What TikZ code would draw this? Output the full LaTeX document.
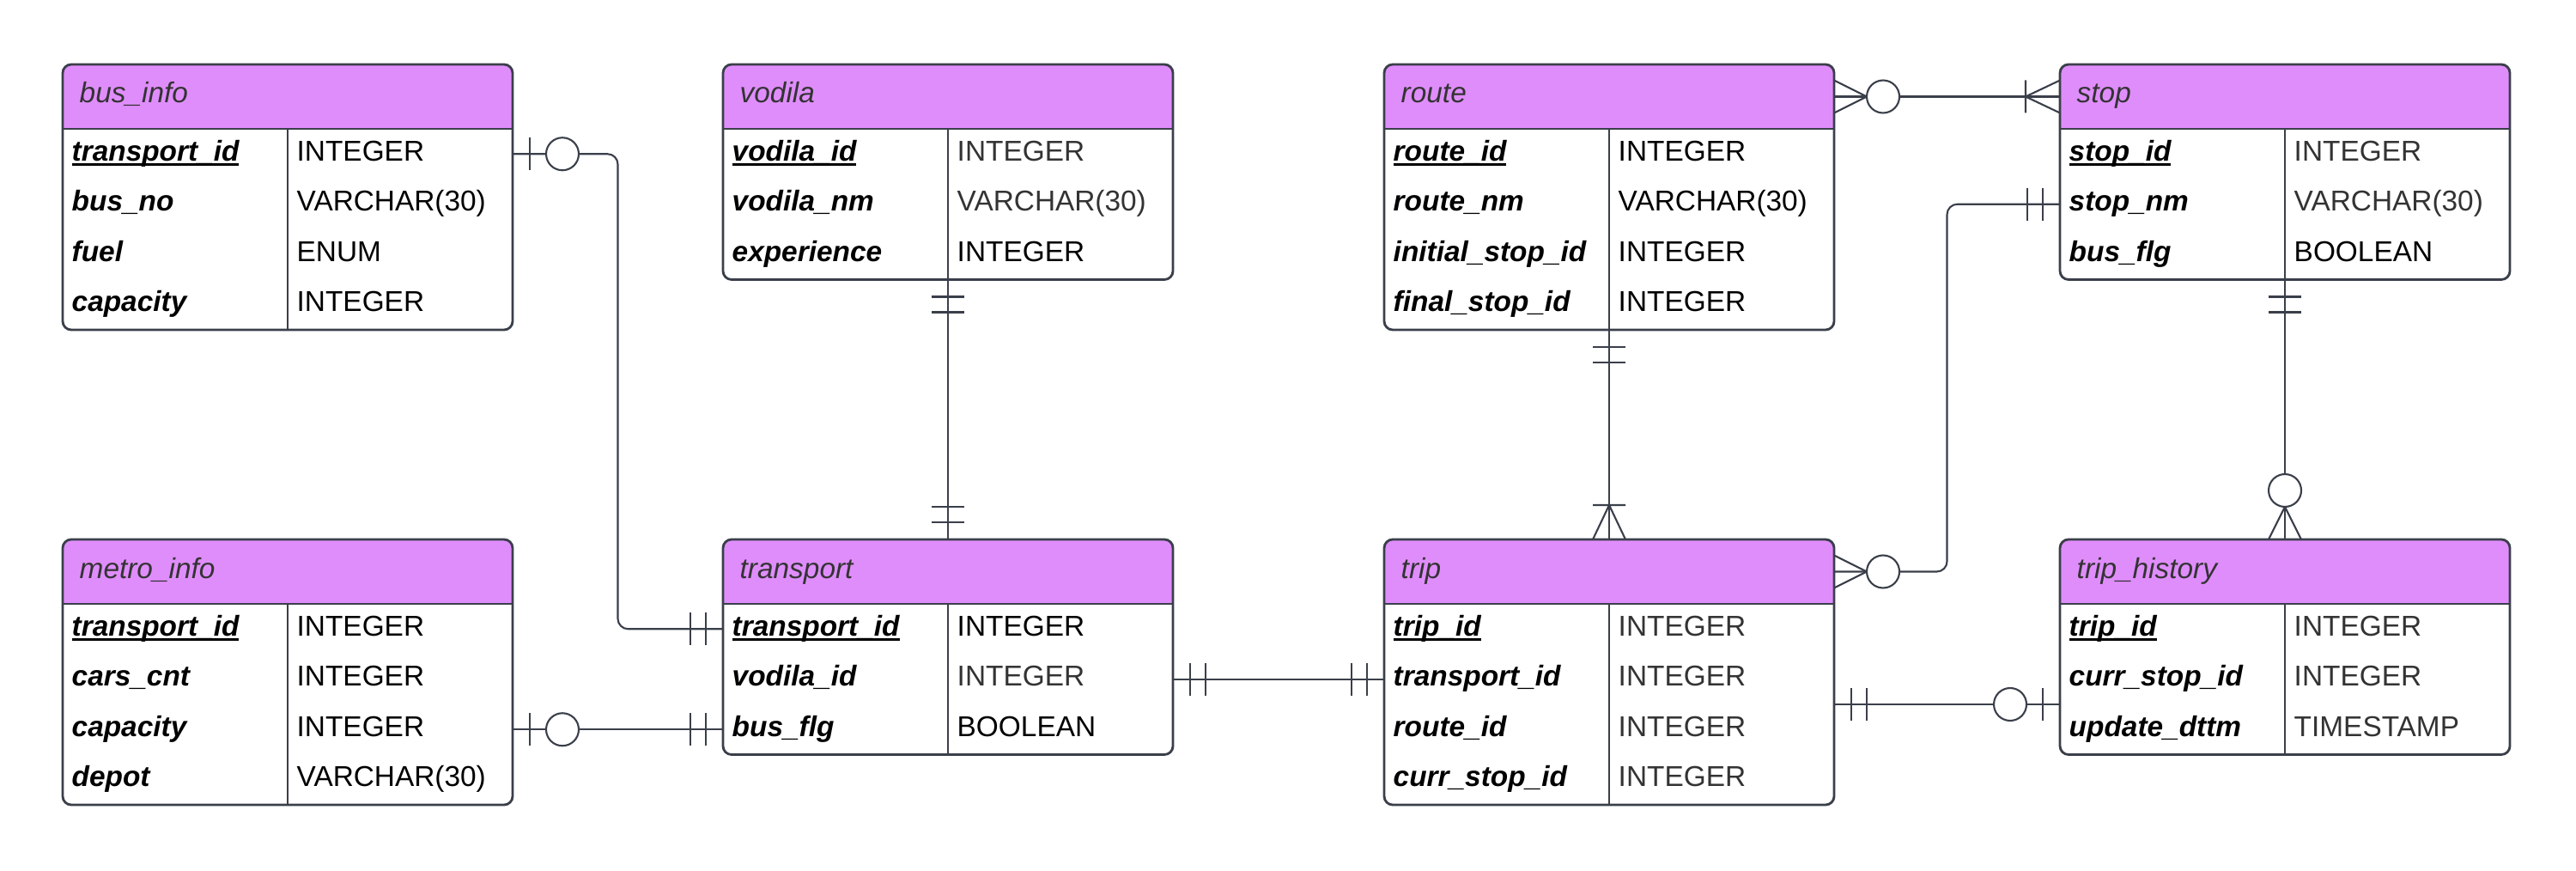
\documentclass[tikz,border=0pt]{standalone}
\usepackage{fontspec}
\setmainfont{Liberation Sans}
\usetikzlibrary{calc}
\definecolor{headpurple}{HTML}{E08DFC}
\definecolor{linegray}{HTML}{3A3F4A}
\definecolor{txtgray}{HTML}{333333}
\tikzset{tableframe/.style={rectangle,anchor=north west,minimum width=5.24cm,inner sep=0pt,outer sep=0pt}}
\tikzset{tableline/.style={draw=linegray,line width=0.8pt}}
\tikzset{tabletitle/.style={anchor=base west,inner sep=0pt,font=\fontsize{9.5}{11}\selectfont\itshape,text=txtgray}}
\tikzset{fieldname/.style={anchor=base west,inner sep=0pt,font=\fontsize{9.5}{11}\selectfont\bfseries\itshape}}
\tikzset{fieldtype/.style={anchor=base west,inner sep=0pt,font=\fontsize{9.5}{11}\selectfont}}
\tikzset{conn/.style={draw=linegray,line width=0.6pt}}
% crow's foot ends, drawn from the table edge outwards along +x
\tikzset{erone/.pic={\draw[conn] (0.2,-0.19) -- (0.2,0.19) (0.38,-0.19) -- (0.38,0.19);}}
\tikzset{erzeroone/.pic={\draw[conn] (0.2,-0.19) -- (0.2,0.19); \draw[conn,fill=white] (0.58,0) circle (0.19);}}
\tikzset{erzeromany/.pic={\draw[conn] (0,0.19) -- (0.38,0) -- (0,-0.19); \draw[conn,fill=white] (0.57,0) circle (0.19);}}
\tikzset{eronemany/.pic={\draw[conn] (0,0.19) -- (0.4,0) -- (0,-0.19) (0.4,-0.19) -- (0.4,0.19);}}

% thicker underline for the key column
\newcommand{\pkline}[1]{\setbox0\hbox{#1}\rlap{\rule[-1.5pt]{\wd0}{0.8pt}}\box0}

% #1 name, #2 top left corner, #3 title, #4 number of rows, #5 rows name/type/colour
\newcommand{\ertable}[5]{%
  \node[tableframe,minimum height=7.5mm+#4*5.85mm] (#1) at #2 {};
  \begin{scope}
    \clip[rounded corners=1mm] (#1.north west) rectangle (#1.south east);
    \fill[headpurple] (#1.north west) rectangle ([yshift=-7.5mm]#1.north east);
  \end{scope}
  \draw[tableline,rounded corners=1mm] (#1.north west) rectangle (#1.south east);
  \draw[tableline] ([yshift=-7.5mm]#1.north west) -- ([yshift=-7.5mm]#1.north east);
  \draw[tableline,line width=0.6pt] ([yshift=-7.5mm]#1.north) -- (#1.south);
  \coordinate (#1-0) at ([yshift=-3.75mm]#1.north west);
  \node[tabletitle] (#1-title) at ([xshift=1.9mm,yshift=-0.75mm]#1-0) {#3};
  \foreach \fname/\ftype/\fcol [count=\i] in {#5} {
    \coordinate (#1-\i) at ([yshift=-7.5mm-(\i-0.5)*5.85mm]#1.north west);
    \node[fieldname] (#1-\i-name) at ([xshift=1mm,yshift=-0.8mm]#1-\i) {\ifnum\i=1 \pkline{\fname}\else\fname\fi};
    \node[fieldtype,text=\fcol] (#1-\i-type) at ([xshift=27.2mm,yshift=-0.8mm]#1-\i) {\ftype};
  }
}

\begin{document}
\begin{tikzpicture}
  \useasboundingbox (0,0) rectangle (30,-10.14);

  % tables
  \ertable{businfo}{(0.73,-0.75)}{bus\_info}{4}{transport\_id/INTEGER/black, bus\_no/VARCHAR(30)/black, fuel/ENUM/black, capacity/INTEGER/black}
  \ertable{vodila}{(8.42,-0.75)}{vodila}{3}{vodila\_id/INTEGER/txtgray, vodila\_nm/VARCHAR(30)/txtgray, experience/INTEGER/black}
  \ertable{route}{(16.12,-0.75)}{route}{4}{route\_id/INTEGER/black, route\_nm/VARCHAR(30)/black, initial\_stop\_id/INTEGER/black, final\_stop\_id/INTEGER/black}
  \ertable{stop}{(23.99,-0.75)}{stop}{3}{stop\_id/INTEGER/txtgray, stop\_nm/VARCHAR(30)/txtgray, bus\_flg/BOOLEAN/black}
  \ertable{metroinfo}{(0.73,-6.28)}{metro\_info}{4}{transport\_id/INTEGER/black, cars\_cnt/INTEGER/black, capacity/INTEGER/black, depot/VARCHAR(30)/black}
  \ertable{transport}{(8.42,-6.28)}{transport}{3}{transport\_id/INTEGER/black, vodila\_id/INTEGER/txtgray, bus\_flg/BOOLEAN/black}
  \ertable{trip}{(16.12,-6.28)}{trip}{4}{trip\_id/INTEGER/txtgray, transport\_id/INTEGER/txtgray, route\_id/INTEGER/txtgray, curr\_stop\_id/INTEGER/txtgray}
  \ertable{triphist}{(23.99,-6.28)}{trip\_history}{3}{trip\_id/INTEGER/txtgray, curr\_stop\_id/INTEGER/txtgray, update\_dttm/TIMESTAMP/txtgray}

  % relations
  \coordinate (bend1) at ($(businfo.east)!0.5!(transport.west)$);
  \coordinate (bend2) at ($(trip.east)!0.5!(stop.west)$);
  \coordinate (tth) at ($(trip-2)!0.5!(trip-3)$);

  \draw[conn,rounded corners=1.2mm] (businfo.east |- businfo-1) -| (bend1 |- transport-1) -- (transport.west |- transport-1);
  \draw[conn] (metroinfo.east |- metroinfo-3) -- (transport.west |- transport-3);
  \draw[conn] (vodila.south) -- (transport.north);
  \draw[conn] (transport.east |- transport-2) -- (trip.west |- trip-2);
  \draw[conn] (route.south) -- (trip.north);
  \draw[conn] (route.east |- route-0) -- (stop.west |- stop-0);
  \draw[conn,rounded corners=1.2mm] (stop.west |- stop-2) -| (bend2 |- trip-0) -- (trip.east |- trip-0);
  \draw[conn] (stop.south) -- (triphist.north);
  \draw[conn] (trip.east |- tth) -- (triphist.west |- tth);

  \pic at (businfo.east |- businfo-1) {erzeroone};
  \pic[rotate=180] at (transport.west |- transport-1) {erone};
  \pic at (metroinfo.east |- metroinfo-3) {erzeroone};
  \pic[rotate=180] at (transport.west |- transport-3) {erone};
  \pic[rotate=-90] at (vodila.south) {erone};
  \pic[rotate=90] at (transport.north) {erone};
  \pic at (transport.east |- transport-2) {erone};
  \pic[rotate=180] at (trip.west |- trip-2) {erone};
  \pic[rotate=-90] at (route.south) {erone};
  \pic[rotate=90] at (trip.north) {eronemany};
  \pic at (route.east |- route-0) {erzeromany};
  \pic[rotate=180] at (stop.west |- stop-0) {eronemany};
  \pic[rotate=180] at (stop.west |- stop-2) {erone};
  \pic at (trip.east |- trip-0) {erzeromany};
  \pic[rotate=-90] at (stop.south) {erone};
  \pic[rotate=90] at (triphist.north) {erzeromany};
  \pic at (trip.east |- tth) {erone};
  \pic[rotate=180] at (triphist.west |- tth) {erzeroone};
\end{tikzpicture}
\end{document}
